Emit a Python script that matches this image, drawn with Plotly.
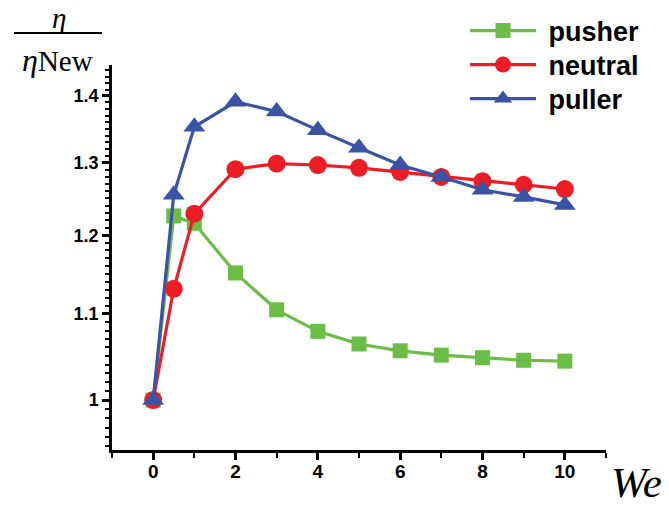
import plotly.graph_objects as go

we = [0, 0.5, 1, 2, 3, 4, 5, 6, 7, 8, 9, 10]
pusher = [1.0, 1.226, 1.216, 1.151, 1.105, 1.079, 1.064, 1.056, 1.051, 1.048, 1.045, 1.044]
neutral = [1.0, 1.131, 1.229, 1.291, 1.299, 1.297, 1.293, 1.287, 1.280, 1.274, 1.269, 1.263]
puller = [1.0, 1.255, 1.353, 1.391, 1.376, 1.348, 1.322, 1.297, 1.280, 1.262, 1.252, 1.241]

series_names = ["pusher", "neutral", "puller"]
x_ticks = [0, 2, 4, 6, 8, 10]
x_minor = [-1, 1, 3, 5, 7, 9, 11]
y_ticks = [1.0, 1.1, 1.2, 1.3, 1.4]
y_tick_text = ["1", "1.1", "1.2", "1.3", "1.4"]

green = "#6cbd45"
red = "#ee1c25"
blue = "#3a53a4"

fig = go.Figure()
fig.add_trace(go.Scatter(x=we, y=pusher, name="\u00a0" + series_names[0], mode="lines+markers",
                         line=dict(color=green, width=3.2),
                         marker=dict(symbol="square", size=15, color=green), legend="legend"))
fig.add_trace(go.Scatter(x=we, y=neutral, name="\u00a0" + series_names[1], mode="lines+markers",
                         line=dict(color=red, width=3.2),
                         marker=dict(symbol="circle", size=18, color=red), legend="legend2"))
fig.add_trace(go.Scatter(x=we, y=puller, name="\u00a0" + series_names[2], mode="lines+markers",
                         line=dict(color=blue, width=3.2),
                         marker=dict(symbol="triangle-up", size=19, color=blue), legend="legend3"))

y_minor = [round(0.95 + 0.01 * i, 2) for i in range(51)]

W, H = 669, 508
l, r, t, b = 112, 63, 65, 58
pw, ph = W - l - r, H - t - b


def px(xp):
    return (xp - l) / pw


def py(yp):
    return (H - b - yp) / ph


def leg(yc):
    return dict(x=px(465), y=py(yc), xanchor="left", yanchor="middle",
                font=dict(size=27, family="Liberation Sans, Arial", weight="bold"),
                bgcolor="rgba(0,0,0,0)", itemwidth=66)


fig.update_layout(
    width=W, height=H,
    margin=dict(l=l, r=r, t=t, b=b, autoexpand=False),
    plot_bgcolor="white", paper_bgcolor="white",
    font=dict(family="Liberation Sans, Arial", size=19, color="black"),
    showlegend=True,
    legend=leg(31), legend2=leg(65), legend3=leg(99),
    xaxis=dict(range=[-1, 11], showgrid=False, zeroline=False,
               showline=True, linecolor="black", linewidth=2.5,
               ticks="outside", ticklen=7, tickwidth=2.5, tickcolor="black",
               tickmode="array", tickvals=x_ticks,
               tickfont=dict(size=19, weight="bold"), ticklabelstandoff=-5,
               minor=dict(tickmode="array", tickvals=x_minor,
                          ticks="outside", ticklen=5, tickwidth=2, tickcolor="black")),
    yaxis=dict(type="log", range=[-0.024, 0.161], showgrid=False, zeroline=False,
               showline=True, linecolor="black", linewidth=2.5,
               ticks="outside", ticklen=7, tickwidth=2.5, tickcolor="black",
               tickmode="array", tickvals=y_ticks, ticktext=y_tick_text,
               tickfont=dict(size=18, weight="bold"),
               minor=dict(tickmode="array", tickvals=y_minor,
                          ticks="outside", ticklen=4, tickwidth=1.5, tickcolor="black")),
)

serif = "Liberation Serif, DejaVu Serif, serif"
fig.add_annotation(text="<i>η</i>", x=px(59), y=py(0), xref="paper", yref="paper",
                   xanchor="center", yanchor="top", showarrow=False,
                   font=dict(family=serif, size=29))
fig.add_annotation(text="<i>η</i><span style='font-size:29px'>New</span>", x=px(57), y=py(60),
                   xref="paper", yref="paper", xanchor="center", yanchor="middle",
                   showarrow=False, font=dict(family=serif, size=32))
fig.add_annotation(text="<i>We</i>", x=px(636), y=py(508), xref="paper", yref="paper",
                   xanchor="center", yanchor="bottom", showarrow=False,
                   font=dict(family=serif, size=43))
fig.add_shape(type="line", x0=px(14), x1=px(102), y0=py(33), y1=py(33),
              xref="paper", yref="paper", line=dict(color="black", width=2))

fig.write_html("out.html", config={"displayModeBar": False},
               post_script="document.body.style.margin='0';")
